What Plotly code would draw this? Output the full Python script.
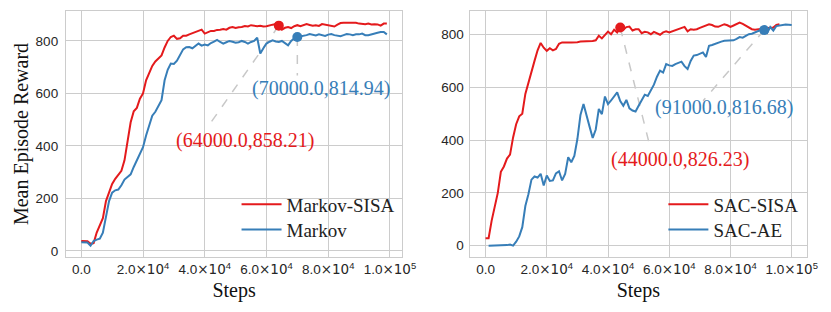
import plotly.graph_objects as go

# ---------------- data ----------------
left_steps = [i * 1000 for i in range(100)]
markov_sisa = [38, 38, 37, 27, 30, 70, 95, 125, 190, 225,
               255, 275, 288, 305, 345, 420, 490, 532, 545, 580,
               600, 650, 680, 705, 722, 735, 745, 775, 800, 815,
               820, 808, 810, 820, 820, 825, 830, 833, 840, 843,
               828, 832, 838, 838, 842, 843, 845, 843, 850, 853,
               849, 852, 853, 857, 855, 860, 857, 856, 858, 855,
               856, 860, 862, 864, 858, 843, 850, 853, 849, 856,
               860, 856, 860, 864, 861, 858, 860, 857, 864, 862,
               858, 856, 855, 862, 868, 869, 869, 868, 869, 869,
               866, 864, 864, 866, 863, 864, 863, 858, 866, 866]
markov = [33, 33, 32, 20, 38, 43, 47, 70, 130, 190,
          222, 231, 234, 250, 272, 282, 292, 320, 345, 368,
          395, 440, 480, 515, 530, 550, 574, 650, 690, 714,
          712, 725, 745, 768, 776, 777, 772, 780, 790, 782,
          786, 783, 792, 797, 804, 796, 790, 795, 800, 797,
          793, 795, 800, 796, 790, 796, 800, 812, 752, 772,
          790, 797, 802, 798, 796, 800, 792, 783, 800, 810,
          815, 817, 818, 822, 826, 824, 821, 825, 822, 819,
          824, 826, 822, 820, 818, 822, 826, 825, 822, 825,
          825, 828, 822, 822, 826, 829, 831, 834, 834, 825]

sisa_steps = [i * 1000 for i in range(97)]
sac_sisa = [28, 28, 95, 150, 200, 280, 300, 330, 345, 410,
            460, 490, 500, 575, 620, 655, 700, 740, 768, 750,
            738, 748, 740, 745, 765, 770, 771, 770, 770, 770,
            771, 773, 773, 774, 774, 775, 778, 795, 785, 800,
            811, 801, 818, 808, 826, 818, 828, 830, 815, 820,
            820, 805, 810, 808, 801, 810, 806, 799, 808, 812,
            808, 812, 815, 818, 822, 829, 812, 820, 818, 820,
            825, 829, 835, 839, 836, 830, 829, 835, 839, 835,
            829, 834, 840, 845, 840, 833, 826, 820, 818, 820,
            820, 822, 824, 826, 826, 836, 839]

ae_steps = [i * 1000 for i in range(1, 101)]
sac_ae = [0, 0, 0, 0, 0, 2, 2, 4, 0, 15,
          35, 70, 150, 195, 250, 262, 258, 272, 228, 266,
          245, 247, 274, 282, 247, 272, 335, 316, 340, 404,
          495, 537, 498, 450, 408, 440, 518, 498, 565, 536,
          550, 568, 581, 548, 530, 552, 520, 512, 508, 530,
          550, 572, 567, 590, 610, 640, 663, 656, 688, 683,
          681, 688, 694, 697, 680, 669, 700, 720, 722, 726,
          732, 715, 757, 760, 765, 770, 773, 776, 777, 777,
          778, 783, 790, 788, 795, 801, 803, 808, 814, 818,
          817, 806, 828, 815, 832, 834, 836, 838, 837, 836]

# annotated points
left_ann_steps = [64000.0, 70000.0]
left_ann_vals = [858.21, 814.94]
right_ann_steps = [44000.0, 91000.0]
right_ann_vals = [826.23, 816.68]

x_tick_vals = [0, 20000, 40000, 60000, 80000, 100000]
x_tick_mantissa = ["0.0", "2.0", "4.0", "6.0", "8.0", "1.0"]
x_tick_exponent = [None, "4", "4", "4", "4", "5"]
y_tick_vals = [0, 200, 400, 600, 800]

x_tick_text = [m if e is None else
               f"{m}<span style='font-family:DejaVu Sans'>×10</span><sup>{e}</sup>"
               for m, e in zip(x_tick_mantissa, x_tick_exponent)]

RED = "#e41a1c"
BLUE = "#377eb8"
GRID = "#cccccc"
SERIF = "Liberation Serif, Times New Roman, serif"
SANS = "Liberation Sans, Arial, sans-serif"

fig = go.Figure()

def line(x, y, name, color, xa, ya, legend):
    fig.add_trace(go.Scatter(x=x, y=y, name=name, mode="lines",
                             line=dict(color=color, width=2),
                             xaxis=xa, yaxis=ya, legend=legend))

line(left_steps, markov_sisa, "Markov-SISA", RED, "x", "y", "legend")
line(left_steps, markov, "Markov", BLUE, "x", "y", "legend2")
line(sisa_steps, sac_sisa, "SAC-SISA", RED, "x2", "y2", "legend3")
line(ae_steps, sac_ae, "SAC-AE", BLUE, "x2", "y2", "legend4")

# annotated markers
for xs, ys, xa, ya in [(left_ann_steps, left_ann_vals, "x", "y"),
                       (right_ann_steps, right_ann_vals, "x2", "y2")]:
    fig.add_trace(go.Scatter(x=xs, y=ys, mode="markers", showlegend=False,
                             marker=dict(color=[RED, BLUE], size=10),
                             xaxis=xa, yaxis=ya, hoverinfo="skip"))

# leader lines + labels (label positions in data units of each axis)
labels = [
    # point x, point y, line end x, line end y, text x, text y, color, xref, yref
    (left_ann_steps[0], left_ann_vals[0], 40600, 466, 52950, 421, RED, "x", "y"),
    (left_ann_steps[1], left_ann_vals[1], 70000, 668, 77800, 619, BLUE, "x", "y"),
    (right_ann_steps[0], right_ann_vals[0], 53790, 372, 63570, 326, RED, "x2", "y2"),
    (right_ann_steps[1], right_ann_vals[1], 71080, 549, 77910, 523, BLUE, "x2", "y2"),
]
for px, py, lx, ly, tx, ty, col, xr, yr in labels:
    fig.add_shape(type="line", x0=px, y0=py, x1=lx, y1=ly, xref=xr, yref=yr,
                  line=dict(color="#c8c8c8", width=1.5, dash="dash"), layer="below")
    fig.add_annotation(x=tx, y=ty, xref=xr, yref=yr, showarrow=False,
                       text=f"({px:.1f},{py:.2f})",
                       font=dict(family=SERIF, size=20, color=col))

axis_common = dict(showgrid=True, gridcolor=GRID, gridwidth=1, zeroline=False,
                   showline=True, linecolor=GRID, linewidth=1.3, mirror=True,
                   ticks="", tickfont=dict(family=SANS, size=13.5, color="#262626"))

PLOT_H = 247
PLOT_W = 743
def leg(px_left, px_top):
    return dict(x=(px_left - 66) / PLOT_W, y=(312 - 55 - px_top) / PLOT_H,
                xref="paper", yref="paper", xanchor="left", yanchor="top",
                bgcolor="rgba(0,0,0,0)", itemwidth=40,
                font=dict(family=SERIF, size=19, color="#222"))

fig.update_layout(
    width=831, height=312,
    margin=dict(l=66, r=22, t=10, b=55),
    paper_bgcolor="white", plot_bgcolor="white",
    showlegend=True,
    xaxis=dict(domain=[0, 0.4536], range=[-4950, 103950], anchor="y",
               tickvals=x_tick_vals, ticktext=x_tick_text,
               title=dict(text="Steps", font=dict(family=SERIF, size=20, color="#111"), standoff=6),
               **axis_common),
    yaxis=dict(domain=[0, 1], range=[-23, 914], anchor="x",
               tickvals=y_tick_vals, ticklabelstandoff=4,
               title=dict(text="Mean Episode Reward", font=dict(family=SERIF, size=20, color="#111"), standoff=1),
               **axis_common),
    xaxis2=dict(domain=[0.5447, 1], range=[-5200, 105000], anchor="y2",
                tickvals=x_tick_vals, ticktext=x_tick_text,
                title=dict(text="Steps", font=dict(family=SERIF, size=20, color="#111"), standoff=6),
                **axis_common),
    yaxis2=dict(domain=[0, 1], range=[-43, 889], anchor="x2",
                tickvals=y_tick_vals, ticklabelstandoff=2,
                **axis_common),
    legend=leg(237, 185),
    legend2=leg(237, 210.5),
    legend3=leg(665, 185),
    legend4=leg(665, 210.5),
)

fig.write_html("out.html", config={"displayModeBar": False},
               post_script="document.body.style.margin='0';document.body.style.overflow='hidden';")
